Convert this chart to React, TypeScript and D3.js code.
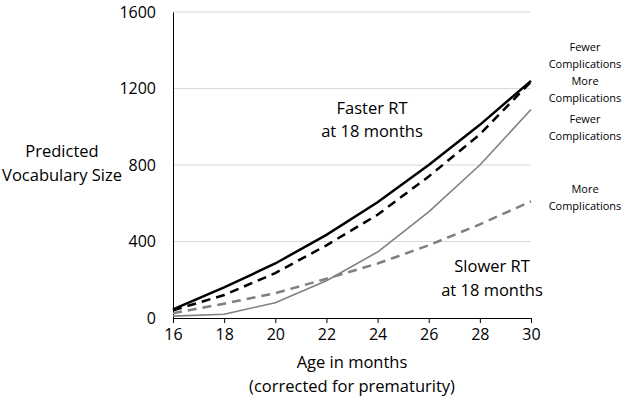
import React, { useRef, useEffect } from 'react';
import * as d3 from 'd3';

const months = [16, 18, 20, 22, 24, 26, 28, 30];
const fasterFewer = [45, 160, 285, 435, 605, 800, 1010, 1240];
const fasterMore = [40, 120, 235, 380, 540, 740, 960, 1235];
const slowerFewer = [10, 20, 80, 195, 345, 555, 800, 1090];
const slowerMore = [25, 75, 130, 205, 285, 380, 490, 610];
const yTicks = [0, 400, 800, 1200, 1600];

const series = [
  { values: slowerMore, color: '#808080', width: 2.5, dash: '9,6' },
  { values: slowerFewer, color: '#808080', width: 1.6, dash: null },
  { values: fasterMore, color: '#000', width: 2.5, dash: '9,6' },
  { values: fasterFewer, color: '#000', width: 2.5, dash: null },
];

const rightLabels = [
  { lines: ['Fewer', 'Complications'], y: 48 },
  { lines: ['More', 'Complications'], y: 82 },
  { lines: ['Fewer', 'Complications'], y: 120 },
  { lines: ['More', 'Complications'], y: 190 },
];

const App = () => {
  const svgRef = useRef<SVGSVGElement>(null);
  const width = 630;
  const height = 401;

  useEffect(() => {
    const svg = d3.select(svgRef.current);
    svg.selectAll('*').remove();
    const font = "'Open Sans', sans-serif";

    const x = d3.scaleLinear().domain([16, 30]).range([173, 531]);
    const y = d3.scaleLinear().domain([0, 1600]).range([318, 12]);

    // gridlines
    svg.append('g')
      .selectAll('line')
      .data(yTicks.filter((d) => d > 0))
      .join('line')
      .attr('x1', x(16))
      .attr('x2', x(30))
      .attr('y1', (d) => y(d))
      .attr('y2', (d) => y(d))
      .attr('stroke', '#d9d9d9')
      .attr('stroke-width', 1);

    const yAxis = svg.append('g')
      .attr('transform', `translate(${x(16)},0)`)
      .call(d3.axisLeft(y).tickValues(yTicks).tickSize(0).tickPadding(17).tickFormat(d3.format('d')));
    yAxis.select('.domain').attr('stroke', '#000');
    yAxis.selectAll('text').attr('font-family', font).attr('font-size', 16).attr('fill', '#000');

    const line = d3.line<number>()
      .x((_, i) => x(months[i]))
      .y((d) => y(d));

    series.forEach((s) => {
      svg.append('path')
        .datum(s.values)
        .attr('d', line)
        .attr('fill', 'none')
        .attr('stroke', s.color)
        .attr('stroke-width', s.width)
        .attr('stroke-dasharray', s.dash);
    });

    const xAxis = svg.append('g')
      .attr('transform', `translate(0,${y(0)})`)
      .call(d3.axisBottom(x).tickValues(months).tickSize(5).tickPadding(6).tickSizeOuter(0));
    xAxis.select('.domain').attr('stroke', '#000');
    xAxis.selectAll('.tick line').attr('stroke', '#000');
    xAxis.selectAll('text').attr('font-family', font).attr('font-size', 16).attr('fill', '#000');

    const txt = (t: string, cx: number, cy: number, size: number) =>
      svg.append('text')
        .attr('x', cx)
        .attr('y', cy)
        .attr('text-anchor', 'middle')
        .attr('dominant-baseline', 'middle')
        .attr('font-family', font)
        .attr('font-size', size)
        .attr('fill', '#000')
        .text(t);

    txt('Age in months', 352, 364, 16.5);
    txt('(corrected for prematurity)', 352, 388, 16.5);
    txt('Predicted', 62, 153, 16.5);
    txt('Vocabulary Size', 62, 177, 16.5);
    txt('Faster RT', 372, 110, 16.5);
    txt('at 18 months', 372, 133, 16.5);
    txt('Slower RT', 492, 268, 16.5);
    txt('at 18 months', 492, 292, 16.5);

    rightLabels.forEach((l) => {
      txt(l.lines[0], 585, l.y, 11);
      txt(l.lines[1], 585, l.y + 17, 11);
    });
  }, []);

  return (
    <svg ref={svgRef} width={width} height={height}
      style={{ position: 'absolute', left: 0, top: 0, background: '#fff' }} />
  );
};

export default App;
